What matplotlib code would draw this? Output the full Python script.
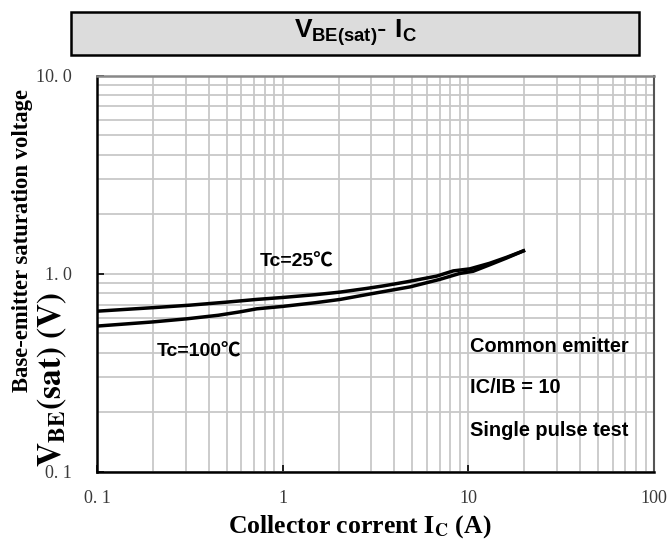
import matplotlib
matplotlib.use("Agg")
import matplotlib.pyplot as plt
from matplotlib.patches import Rectangle
from matplotlib.ticker import FixedLocator, NullFormatter
import numpy as np

plt.rcParams['mathtext.fontset'] = 'custom'
plt.rcParams['mathtext.rm'] = 'Liberation Sans:bold'
plt.rcParams['mathtext.bf'] = 'Liberation Sans:bold'
plt.rcParams['mathtext.it'] = 'Liberation Sans:bold'

ic_25 = [0.1, 0.2, 0.317, 0.5, 0.725, 1.0, 1.5, 2.04, 2.83, 3.5, 4.65, 6.75, 8.3, 10.2, 13.0, 16.0, 19.8]
vbe_25 = [0.648, 0.675, 0.695, 0.72, 0.743, 0.76, 0.785, 0.809, 0.844, 0.87, 0.911, 0.974, 1.035, 1.06, 1.13, 1.21, 1.306]

ic_100 = [0.1, 0.2, 0.304, 0.45, 0.589, 0.725, 1.0, 1.5, 2.04, 3.06, 4.87, 7.0, 9.0, 10.6, 13.0, 16.0, 19.8]
vbe_100 = [0.545, 0.572, 0.593, 0.618, 0.643, 0.666, 0.685, 0.715, 0.743, 0.796, 0.86, 0.937, 1.005, 1.03, 1.11, 1.2, 1.306]

x_ticks = [0.1, 1, 10, 100]
x_labels = ["0. 1", "1", "10", "100"]
y_ticks = [0.1, 1.0, 10.0]
y_labels = ["0. 1", "1. 0", "10. 0"]

fig = plt.figure(figsize=(6.69, 5.42), dpi=100)
ax = fig.add_axes([97/669, 1-472/542, (654-97)/669, (472-75.7)/542])

ax.plot(ic_25, vbe_25, color="black", lw=2.5)
ax.plot(ic_100, vbe_100, color="black", lw=2.5)

ax.set_xscale("log")
ax.set_yscale("log")
ax.set_xlim(0.1, 100)
ax.set_ylim(0.1, 10)

minors = [m * 10.0**d for d in range(-1, 2) for m in range(2, 10)]
ax.xaxis.set_major_locator(FixedLocator(x_ticks))
ax.yaxis.set_major_locator(FixedLocator(y_ticks))
ax.xaxis.set_minor_locator(FixedLocator(minors))
ax.yaxis.set_minor_locator(FixedLocator(minors))
ax.xaxis.set_minor_formatter(NullFormatter())
ax.yaxis.set_minor_formatter(NullFormatter())
ax.set_xticklabels(x_labels)
ax.set_yticklabels(y_labels)
ax.grid(True, which="both", color="#c8c8c8", lw=1.3)
ax.tick_params(which="major", direction="in", length=5, width=1.2, pad=13,
               labelsize=13, labelcolor="#3a3a3a")
ax.tick_params(axis="y", pad=18)
ax.tick_params(which="minor", length=0)
for lab in ax.get_xticklabels() + ax.get_yticklabels():
    lab.set_fontfamily("Liberation Serif")
ax.set_axisbelow(True)

ax.spines["left"].set_linewidth(1.8)
ax.spines["bottom"].set_linewidth(1.8)
ax.spines["top"].set_color("#888888")
ax.spines["top"].set_linewidth(1.8)
ax.spines["right"].set_color("#555555")
ax.spines["right"].set_linewidth(1.5)

sans = ["Liberation Sans", "Noto Sans CJK SC", "DejaVu Sans"]
ax.text(0.755, 1.152, "Tc=25℃", family=sans, fontweight="bold", fontsize=14, va="center")
ax.text(0.21, 0.402, "Tc=100℃", family=sans, fontweight="bold", fontsize=14, va="center")
ax.text(10.2, 0.43, "Common emitter", family=sans, fontweight="bold", fontsize=14.4, va="center")
ax.text(10.2, 0.267, "IC/IB = 10", family=sans, fontweight="bold", fontsize=14.4, va="center")
ax.text(10.2, 0.162, "Single pulse test", family=sans, fontweight="bold", fontsize=14.4, va="center")

# title box
fig.patches.append(Rectangle((71/669, 1-55/542), (639-71)/669, 43/542,
                             transform=fig.transFigure, facecolor="#dcdcdc",
                             edgecolor="black", lw=1.8))
fig.text(355/669, 1-33/542, r"$V_{BE(sat)}$- $I_C$", ha="center", va="center",
         fontsize=19, math_fontfamily="custom")

fig.text(23/669, 1-240/542, "Base-emitter saturation voltage", rotation=90,
         ha="center", va="center", fontsize=16.3, fontweight="bold",
         family="Liberation Serif")
fig.text(52/669, 1-379/542, r"$\mathbf{V_{BE}(sat)\ (V)}$", rotation=90,
         ha="center", va="center", fontsize=24, math_fontfamily="stix")
fig.text(360/669, 1-527/542, r"Collector corrent $\mathbf{I_C}$ (A)",
         ha="center", va="center", fontsize=18.5, fontweight="bold",
         family="Liberation Serif", math_fontfamily="stix")

fig.savefig("out.png", dpi=100)
